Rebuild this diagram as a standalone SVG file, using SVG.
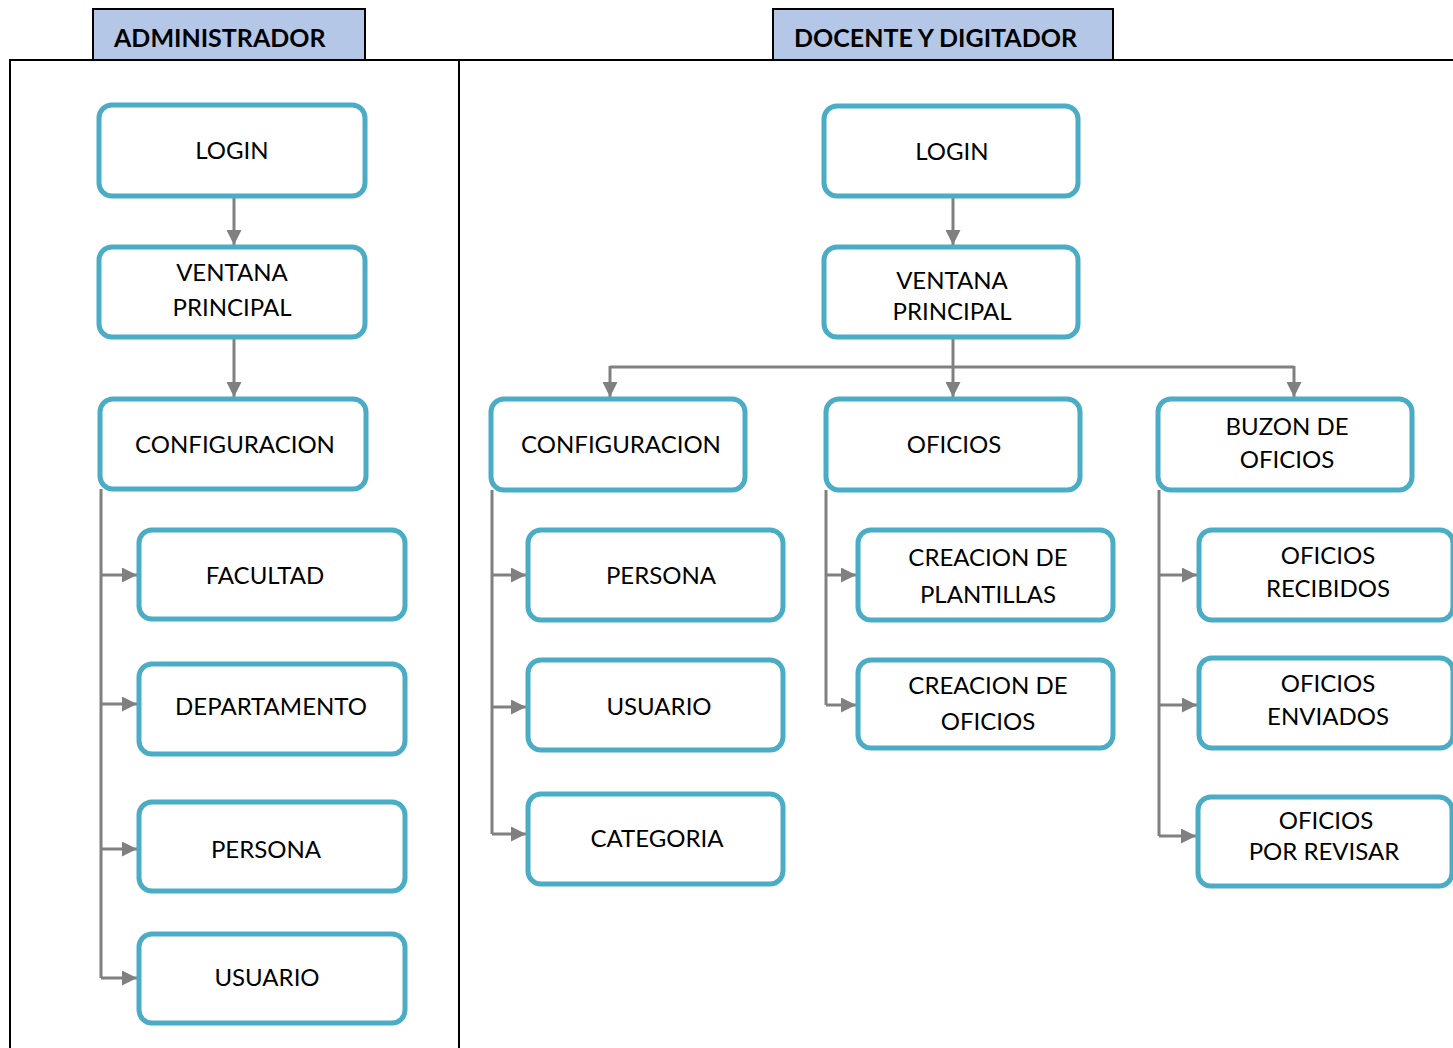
<svg xmlns="http://www.w3.org/2000/svg" width="1453" height="1048" viewBox="0 0 1453 1048">
<style>
.node rect{fill:#fff;stroke:#4BACC6;stroke-width:5}
.node text,.t{font-family:Lato,"Liberation Sans",sans-serif;font-size:24px;fill:#000;text-anchor:middle}
.tab rect{fill:#B4C7E7;stroke:#000;stroke-width:2}
.tab text{font-family:Lato,"Liberation Sans",sans-serif;font-size:25px;font-weight:bold;fill:#000}
.conn path{fill:none;stroke:#808080;stroke-width:3}
.frame{fill:none;stroke:#000;stroke-width:2}
</style>
<defs>
<marker id="ah" viewBox="0 0 10 10" refX="10" refY="5" markerWidth="5.5" markerHeight="5" markerUnits="strokeWidth" orient="auto">
<path d="M0,0 L10,5 L0,10 z" fill="#808080"/>
</marker>
</defs>
<rect width="1453" height="1048" fill="#fff"/>
<g id="frames">
<path class="frame" d="M10,1048 V60 H1453 M459,60 V1048"/>
</g>
<g id="tab-admin" class="tab"><rect x="93" y="9" width="272" height="51"/><text x="114" y="47">ADMINISTRADOR</text></g>
<g id="tab-docente" class="tab"><rect x="773" y="9" width="340" height="51"/><text x="794" y="47">DOCENTE Y DIGITADOR</text></g>

<g id="connectors" class="conn">
<path d="M234,196 V245" marker-end="url(#ah)"/>
<path d="M234,337 V397" marker-end="url(#ah)"/>
<path d="M101,489 V978"/>
<path d="M101,575 H137" marker-end="url(#ah)"/>
<path d="M101,704 H137" marker-end="url(#ah)"/>
<path d="M101,849 H137" marker-end="url(#ah)"/>
<path d="M101,978 H137" marker-end="url(#ah)"/>

<path d="M953,196 V245" marker-end="url(#ah)"/>
<path d="M953,337 V397" marker-end="url(#ah)"/>
<path d="M610,367 H1294"/>
<path d="M610,366 V397" marker-end="url(#ah)"/>
<path d="M1294,366 V397" marker-end="url(#ah)"/>
<path d="M492,490 V834"/>
<path d="M492,575 H526" marker-end="url(#ah)"/>
<path d="M492,707 H526" marker-end="url(#ah)"/>
<path d="M492,834 H526" marker-end="url(#ah)"/>
<path d="M826,490 V705"/>
<path d="M826,575 H856" marker-end="url(#ah)"/>
<path d="M826,705 H856" marker-end="url(#ah)"/>
<path d="M1159,490 V836"/>
<path d="M1159,575 H1197" marker-end="url(#ah)"/>
<path d="M1159,705 H1197" marker-end="url(#ah)"/>
<path d="M1159,836 H1196" marker-end="url(#ah)"/>
</g>

<g id="a-login" class="node"><rect x="99" y="105" width="266" height="91" rx="13"/><text x="232" y="159">LOGIN</text></g>
<g id="a-ventana" class="node"><rect x="99" y="247" width="266" height="90" rx="13"/><text x="232" y="281">VENTANA</text><text x="232" y="316">PRINCIPAL</text></g>
<g id="a-config" class="node"><rect x="100" y="399" width="266" height="90" rx="13"/><text x="235" y="453">CONFIGURACION</text></g>
<g id="a-facultad" class="node"><rect x="139" y="530" width="266" height="89" rx="13"/><text x="265" y="584">FACULTAD</text></g>
<g id="a-departamento" class="node"><rect x="139" y="664" width="266" height="90" rx="13"/><text x="271" y="715">DEPARTAMENTO</text></g>
<g id="a-persona" class="node"><rect x="139" y="802" width="266" height="89" rx="13"/><text x="266" y="858">PERSONA</text></g>
<g id="a-usuario" class="node"><rect x="139" y="934" width="266" height="89" rx="13"/><text x="267" y="986">USUARIO</text></g>

<g id="d-login" class="node"><rect x="824" y="106" width="254" height="90" rx="13"/><text x="952" y="160">LOGIN</text></g>
<g id="d-ventana" class="node"><rect x="824" y="247" width="254" height="90" rx="13"/><text x="952" y="289">VENTANA</text><text x="952" y="320">PRINCIPAL</text></g>
<g id="d-config" class="node"><rect x="491" y="399" width="254" height="91" rx="13"/><text x="621" y="453">CONFIGURACION</text></g>
<g id="d-oficios" class="node"><rect x="826" y="399" width="254" height="91" rx="13"/><text x="954" y="453">OFICIOS</text></g>
<g id="d-buzon" class="node"><rect x="1158" y="399" width="254" height="91" rx="13"/><text x="1287" y="435">BUZON DE</text><text x="1287" y="468">OFICIOS</text></g>
<g id="d-persona" class="node"><rect x="528" y="530" width="255" height="90" rx="13"/><text x="661" y="584">PERSONA</text></g>
<g id="d-usuario" class="node"><rect x="528" y="660" width="255" height="90" rx="13"/><text x="659" y="715">USUARIO</text></g>
<g id="d-categoria" class="node"><rect x="528" y="794" width="255" height="90" rx="13"/><text x="657" y="847">CATEGORIA</text></g>
<g id="d-plantillas" class="node"><rect x="858" y="530" width="255" height="90" rx="13"/><text x="988" y="566">CREACION DE</text><text x="988" y="603">PLANTILLAS</text></g>
<g id="d-creaoficios" class="node"><rect x="858" y="660" width="255" height="88" rx="13"/><text x="988" y="694">CREACION DE</text><text x="988" y="730">OFICIOS</text></g>
<g id="d-recibidos" class="node"><rect x="1199" y="530" width="254" height="90" rx="13"/><text x="1328" y="564">OFICIOS</text><text x="1328" y="597">RECIBIDOS</text></g>
<g id="d-enviados" class="node"><rect x="1199" y="658" width="254" height="90" rx="13"/><text x="1328" y="692">OFICIOS</text><text x="1328" y="725">ENVIADOS</text></g>
<g id="d-revisar" class="node"><rect x="1198" y="797" width="254" height="89" rx="13"/><text x="1326" y="829">OFICIOS</text><text x="1324" y="860">POR REVISAR</text></g>
</svg>
